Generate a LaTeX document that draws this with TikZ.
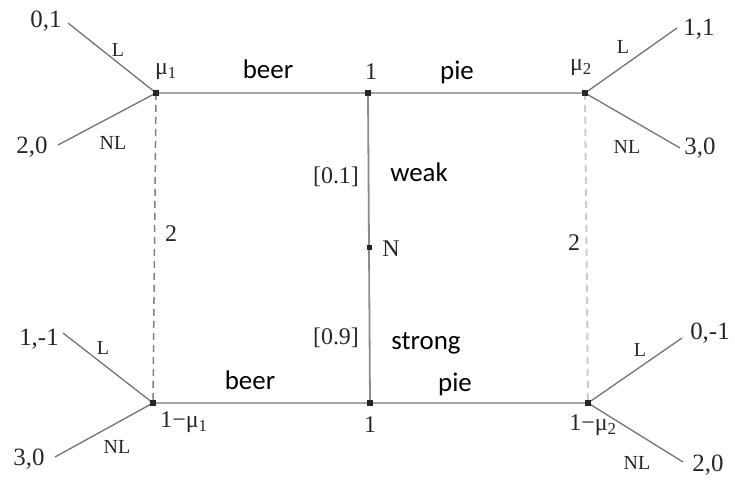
\documentclass[tikz,border=0pt]{standalone}
\usepackage{fontspec}
\setmainfont{Liberation Serif}
\newfontfamily\calfont{Carlito}
\begin{document}
\begin{tikzpicture}[x=1bp,y=-1bp,
  dot/.style={rectangle,fill=black!85,minimum size=6bp,inner sep=0pt,draw=none},
  mainline/.style={draw=black!35,line width=2.6bp},
  midline/.style={draw=black!45,line width=1.8bp},
  branch/.style={draw=black!55,line width=1.3bp},
  dashL/.style={draw=black!50,line width=1.5bp,dash pattern=on 7bp off 5bp},
  dashR/.style={draw=black!20,line width=2bp,dash pattern=on 7bp off 5bp},
  pay/.style={font=\fontsize{25}{25}\selectfont,inner sep=0pt,text=black!85},
  lab/.style={font=\fontsize{20}{20}\selectfont,inner sep=0pt,text=black!85},
  ser/.style={font=\fontsize{24}{24}\selectfont,inner sep=0pt,text=black!85},
  sans/.style={font=\calfont\fontsize{27}{27}\selectfont,inner sep=0pt,text=black}]
\useasboundingbox (0,0) rectangle (735,482);

% decision nodes
\node[dot] (tl) at (156,93) {};
\node[dot] (tc) at (368,93) {};
\node[dot] (tr) at (585,93) {};
\node[dot] (bl) at (153,403) {};
\node[dot] (bc) at (370,403) {};
\node[dot] (br) at (588,403) {};
\node[dot,minimum size=5bp] (n) at (369,248) {};

% main lines
\draw[mainline] (tl.center) -- (tc.center) -- (tr.center);
\draw[mainline] (bl.center) -- (bc.center) -- (br.center);
\draw[midline] (tc.center) -- (n.center) -- (bc.center);
\draw[dashL] (tl.center) -- (bl.center);
\draw[dashR] (tr.center) -- (br.center);

% branch ends
\coordinate (e1) at (68,23);
\coordinate (e2) at (58,145);
\coordinate (e3) at (677,28);
\coordinate (e4) at (680,148);
\coordinate (e5) at (63,333);
\coordinate (e6) at (55,457);
\coordinate (e7) at (682,338);
\coordinate (e8) at (683,462);
\draw[branch] (e1) -- (tl.center);
\draw[branch] (e2) -- (tl.center);
\draw[branch] (e3) -- (tr.center);
\draw[branch] (e4) -- (tr.center);
\draw[branch] (e5) -- (bl.center);
\draw[branch] (e6) -- (bl.center);
\draw[branch] (e7) -- (br.center);
\draw[branch] (e8) -- (br.center);
\foreach \n in {tl,tc,tr,bl,bc,br} \node[dot] at (\n) {};
\node[dot,minimum size=5bp] at (n) {};

% payoffs
\node[pay] (p1) at (46,21) {0,1};
\node[pay] (p2) at (32,147) {2,0};
\node[pay] (p3) at (699,29) {1,1};
\node[pay] (p4) at (700,148) {3,0};
\node[pay] (p5) at (39,339) {1,-1};
\node[pay] (p6) at (29,459) {3,0};
\node[pay] (p7) at (710,333) {0,-1};
\node[pay] (p8) at (708,465) {2,0};

% L / NL
\node[lab] (l1) at (118,50) {L};
\node[lab] (l2) at (113,143) {NL};
\node[lab] (l3) at (623,47) {L};
\node[lab] (l4) at (627,147) {NL};
\node[lab] (l5) at (103,348) {L};
\node[lab] (l6) at (117,447) {NL};
\node[lab] (l7) at (640,350) {L};
\node[lab] (l8) at (637,463) {NL};

% beliefs
\node[ser] (m1) at (166,72) {μ\textsubscript{1}};
\node[ser] (m2) at (581,68) {μ\textsubscript{2}};
\node[ser] (m3) at (184,422) {1−μ\textsubscript{1}};
\node[ser] (m4) at (593,425) {1−μ\textsubscript{2}};

% center labels
\node[ser] (o1) at (371,72) {1};
\node[ser] (o2) at (370,425) {1};
\node[ser] (nl) at (391,249) {N};
\node[ser] (q1) at (336,177) {[0.1]};
\node[ser] (q2) at (336,338) {[0.9]};
\node[ser] (d1) at (171,234) {2};
\node[ser] (d2) at (574,243) {2};

% messages
\node[sans] (s1) at (268,69) {beer};
\node[sans] (s2) at (457,72) {pie};
\node[sans] (s3) at (250,380) {beer};
\node[sans] (s4) at (455,384) {pie};
\node[sans] (s5) at (419,172) {weak};
\node[sans] (s6) at (426,343) {strong};
\end{tikzpicture}
\end{document}
